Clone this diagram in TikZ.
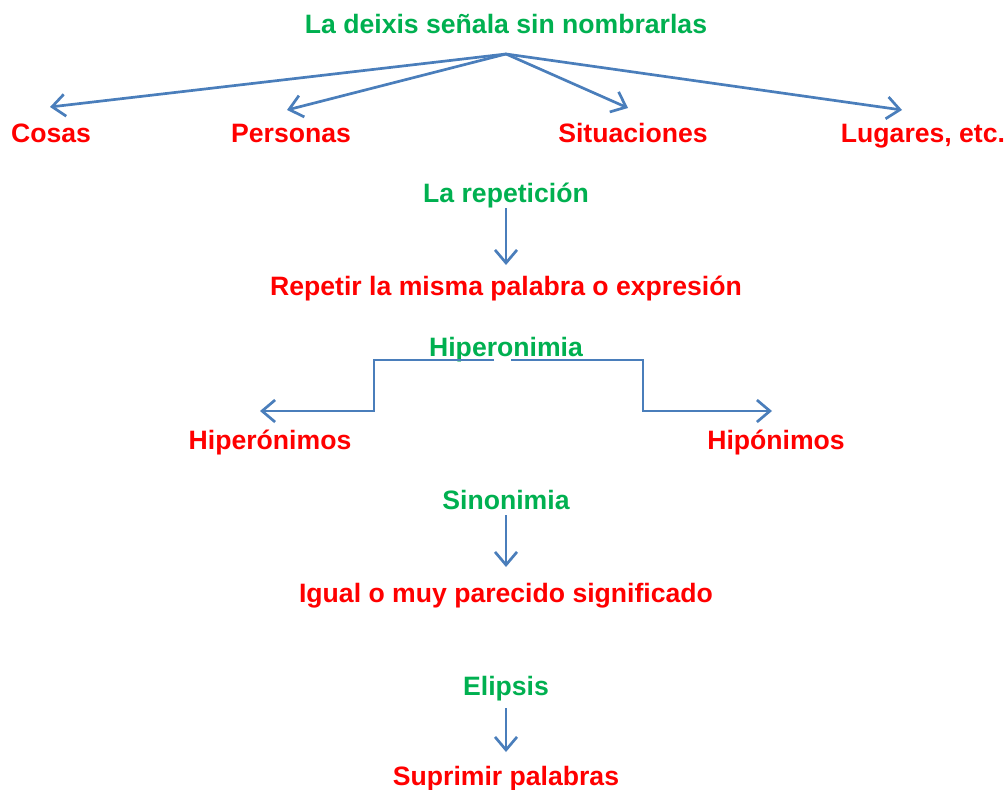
\documentclass[tikz,border=0pt]{standalone}
\usepackage{fontspec}
\setmainfont{Liberation Sans}
\usetikzlibrary{arrows.meta,calc}
\definecolor{tgreen}{RGB}{0,176,80}
\definecolor{tred}{RGB}{255,0,0}
\definecolor{tblue}{RGB}{74,126,187}
\begin{document}
\begin{tikzpicture}[x=1pt,y=-1pt,
  lbl/.style={inner sep=0pt,anchor=base,font=\fontsize{26.6}{30}\selectfont\bfseries},
  head/.style={lbl,text=tgreen},
  leaf/.style={lbl,text=tred},
  conn/.style={draw=tblue,line width=2.7pt,-{Straight Barb[length=13pt,width=22pt]}},
  seg/.style={draw=tblue,line width=2.7pt}]
\useasboundingbox (0,0) rectangle (1008,789);
% Deixis
\node[head] (deixis) at (506,34) {La deixis señala sin nombrarlas};
\node[leaf] (cosas) at (51,142) {Cosas};
\node[leaf] (personas) at (291,142) {Personas};
\node[leaf] (situaciones) at (633,142) {Situaciones};
\node[leaf] (lugares) at (923,142) {Lugares, etc.};
\coordinate (d0) at (506,54);
\coordinate (e1) at (50,107);
\coordinate (e2) at (287,110);
\coordinate (e3) at (628,108);
\coordinate (e4) at (902,110);
\draw[conn] (d0) -- (e1);
\draw[conn] (d0) -- (e2);
\draw[conn] (d0) -- (e3);
\draw[conn] (d0) -- (e4);
% Repeticion
\node[head] (rep) at (506,202) {La repetición};
\node[leaf] (repetir) at (506,295) {Repetir la misma palabra o expresión};
\coordinate (r0) at (506,208);
\coordinate (r1) at (506,265);
\draw[conn] (r0) -- (r1);
% Hiperonimia
\node[head] (hiper) at (506,356) {Hiperonimia};
\node[leaf] (hiperonimos) at (270,449) {Hiperónimos};
\node[leaf] (hiponimos) at (776,449) {Hipónimos};
\coordinate (h0) at (494,360);
\coordinate (h1) at (374,360);
\coordinate (h2) at (374,411);
\coordinate (h3) at (260,411);
\coordinate (k0) at (511,360);
\coordinate (k1) at (643,360);
\coordinate (k2) at (643,411);
\coordinate (k3) at (772,411);
\draw[conn] (h0) -- (h1) -- (h2) -- (h3);
\draw[conn] (k0) -- (k1) -- (k2) -- (k3);
% Sinonimia
\node[head] (sino) at (506,509) {Sinonimia};
\node[leaf] (igual) at (506,602) {Igual o muy parecido significado};
\coordinate (s0) at (506,515);
\coordinate (s1) at (506,567);
\draw[conn] (s0) -- (s1);
% Elipsis
\node[head] (elipsis) at (506,695) {Elipsis};
\node[leaf] (suprimir) at (506,785) {Suprimir palabras};
\coordinate (p0) at (506,708);
\coordinate (p1) at (506,752);
\draw[conn] (p0) -- (p1);
\end{tikzpicture}
\end{document}
